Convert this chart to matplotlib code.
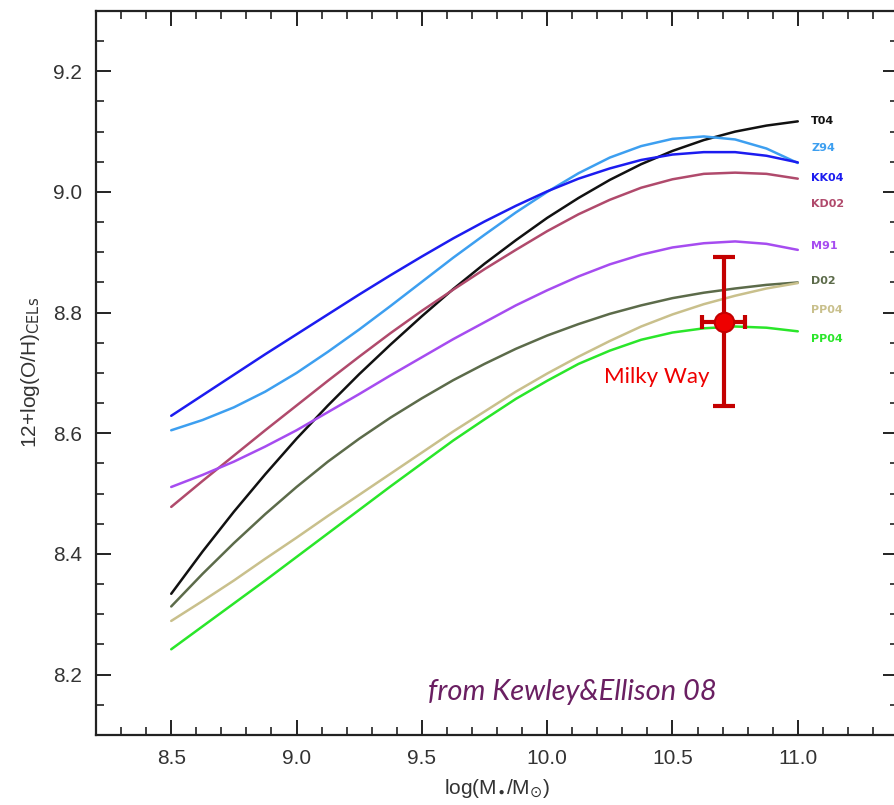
import matplotlib
matplotlib.use("Agg")
import matplotlib.pyplot as plt
from matplotlib.ticker import MultipleLocator

# Stellar mass grid, log(M*/Msun)
log_mass = [8.5, 8.625, 8.75, 8.875, 9.0, 9.125, 9.25, 9.375, 9.5, 9.625, 9.75,
            9.875, 10.0, 10.125, 10.25, 10.375, 10.5, 10.625, 10.75, 10.875, 11.0]

# Mass-metallicity relations, 12+log(O/H), one per calibration
t04 = [8.334, 8.404, 8.470, 8.532, 8.591, 8.646, 8.698, 8.747, 8.794, 8.839, 8.881,
       8.920, 8.957, 8.990, 9.020, 9.046, 9.068, 9.086, 9.100, 9.110, 9.117]
z94 = [8.605, 8.622, 8.643, 8.669, 8.700, 8.735, 8.772, 8.811, 8.851, 8.891, 8.929,
       8.966, 9.000, 9.031, 9.057, 9.076, 9.088, 9.092, 9.087, 9.072, 9.048]
kk04 = [8.629, 8.663, 8.697, 8.731, 8.764, 8.797, 8.830, 8.862, 8.893, 8.923, 8.951,
        8.977, 9.001, 9.022, 9.039, 9.053, 9.062, 9.066, 9.066, 9.060, 9.049]
kd02 = [8.478, 8.521, 8.563, 8.605, 8.646, 8.687, 8.727, 8.766, 8.803, 8.838, 8.872,
        8.904, 8.935, 8.963, 8.987, 9.007, 9.021, 9.030, 9.032, 9.030, 9.022]
m91 = [8.511, 8.531, 8.553, 8.578, 8.605, 8.635, 8.665, 8.696, 8.726, 8.756, 8.784,
       8.812, 8.837, 8.860, 8.880, 8.896, 8.908, 8.915, 8.918, 8.914, 8.904]
d02 = [8.313, 8.367, 8.418, 8.466, 8.511, 8.553, 8.591, 8.626, 8.658, 8.688, 8.715,
       8.740, 8.762, 8.781, 8.798, 8.812, 8.824, 8.833, 8.840, 8.846, 8.850]
pp04_n2 = [8.289, 8.322, 8.356, 8.392, 8.427, 8.463, 8.498, 8.533, 8.568, 8.603, 8.636,
           8.669, 8.699, 8.727, 8.753, 8.777, 8.797, 8.814, 8.828, 8.840, 8.849]
pp04_o3n2 = [8.242, 8.280, 8.318, 8.356, 8.395, 8.434, 8.473, 8.512, 8.550, 8.588, 8.623,
             8.657, 8.687, 8.715, 8.737, 8.755, 8.767, 8.774, 8.777, 8.775, 8.769]

series = [t04, z94, kk04, kd02, m91, d02, pp04_n2, pp04_o3n2]
names = ["T04", "Z94", "KK04", "KD02", "M91", "D02", "PP04", "PP04"]
colors = ["#111111", "#3d9ff0", "#1c1cf0", "#b04a6c", "#a64cf0",
          "#5c6b4a", "#c9c08c", "#2ae62a"]
label_y = [9.117, 9.073, 9.023, 8.980, 8.911, 8.853, 8.804, 8.756]

# Milky Way estimate
mw_mass = 10.705
mw_oh = 8.784
mw_oh_err = [[0.139], [0.108]]
mw_mass_err = 0.086

plt.rcParams["font.family"] = ["Liberation Sans", "DejaVu Sans"]

fig = plt.figure(figsize=(8.95, 8.05), dpi=100)
ax = fig.add_axes([0.1073, 0.0870, 0.8961, 0.8994])

for vals, col in zip(series, colors):
    ax.plot(log_mass, vals, color=col, lw=1.8, solid_capstyle="round",
            solid_joinstyle="round")

for name, col, yv in zip(names, colors, label_y):
    ax.text(11.053, yv, name, color=col, fontsize=8, fontweight="bold",
            ha="left", va="center", family="DejaVu Sans")

# Milky Way point with asymmetric vertical error
ax.errorbar(mw_mass, mw_oh, yerr=mw_oh_err, fmt="none", ecolor="#c40000",
            elinewidth=3.0, capsize=8, capthick=3.0, zorder=5)
ax.errorbar(mw_mass, mw_oh, xerr=mw_mass_err, fmt="none", ecolor="#c40000",
            elinewidth=3.0, capsize=5, capthick=3.0, zorder=5)
ax.plot(mw_mass, mw_oh, "o", ms=14, mfc="#ee0000", mec="#c40000", mew=1.5, zorder=6)
ax.text(10.436, 8.693, "Milky Way", color="#ee0000", fontsize=16,
        ha="center", va="center", family=["Lato", "DejaVu Sans"])

ax.text(10.10, 8.172, "from Kewley&Ellison 08", color="#6a1f62", fontsize=21,
        style="italic", ha="center", va="center", family=["Lato", "DejaVu Sans"])

ax.set_xlim(8.2, 11.4)
ax.set_ylim(8.1, 9.3)
ax.xaxis.set_major_locator(MultipleLocator(0.5))
ax.xaxis.set_minor_locator(MultipleLocator(0.1))
ax.yaxis.set_major_locator(MultipleLocator(0.2))
ax.yaxis.set_minor_locator(MultipleLocator(0.05))
ax.xaxis.set_major_formatter(plt.FormatStrFormatter("%.1f"))
ax.yaxis.set_major_formatter(plt.FormatStrFormatter("%.1f"))

ax.tick_params(which="both", direction="in", top=True, right=True,
               color="#222222", labelsize=15, labelcolor="#333333")
ax.tick_params(which="major", length=11, width=1.4, pad=10)
ax.tick_params(which="minor", length=5.5, width=1.2)
for sp in ax.spines.values():
    sp.set_linewidth(1.6)
    sp.set_color("#222222")

ax.set_xlabel(r"log(M$_{\bullet}$/M$_{\odot}$)", fontsize=15, color="#333333",
              labelpad=7)
ax.set_ylabel(r"12+log(O/H)$_{\rm CELs}$", fontsize=15, color="#333333",
              labelpad=8)

fig.savefig("out.png", dpi=100, facecolor="white")
